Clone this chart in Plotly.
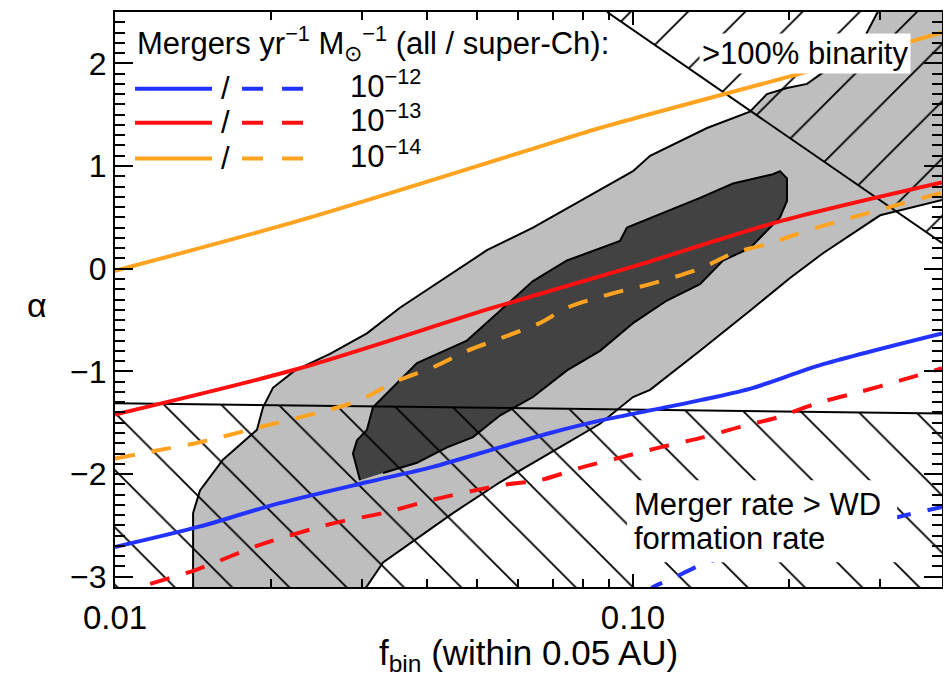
import math
import plotly.graph_objects as go

# ---------------- data ----------------
x_range = [0.01, 0.395]
y_range = [-3.1, 2.5]

x_major = [0.01, 0.1]
x_major_text = ["0.01", "0.10"]
x_minor = [0.02, 0.03, 0.04, 0.05, 0.06, 0.07, 0.08, 0.09, 0.2, 0.3]
y_major = [-3, -2, -1, 0, 1, 2]
y_major_text = ["\u22123", "\u22122", "\u22121", "0", "1", "2"]

# 2-sigma (light) contour
outer_x = [0.01415, 0.01415, 0.01459, 0.01616, 0.01879, 0.01931, 0.02018, 0.02226, 0.02601,
           0.03064, 0.03549, 0.04241, 0.05225, 0.06411, 0.07904, 0.1000, 0.1079, 0.1163,
           0.1390, 0.1682, 0.1814, 0.1983, 0.2168, 0.2296, 0.2743, 0.3039, 0.45, 0.45,
           0.3000, 0.2327, 0.2010, 0.1682, 0.1347, 0.1079, 0.1000, 0.08637, 0.07458,
           0.06243, 0.05534, 0.04493, 0.03880, 0.03292, 0.03011]
outer_y = [-3.15, -2.38, -2.16, -1.86, -1.57, -1.35, -1.16, -0.99, -0.83,
           -0.63, -0.38, -0.12, 0.18, 0.40, 0.66, 0.95, 1.10, 1.18,
           1.37, 1.53, 1.70, 1.76, 1.80, 1.89, 2.17, 2.60, 2.60, 0.74,
           0.52, 0.15, -0.09, -0.41, -0.80, -1.18, -1.25, -1.51, -1.70,
           -1.93, -2.08, -2.38, -2.61, -2.86, -3.15]

# 1-sigma (dark) contour
inner_x = [0.02972, 0.02880, 0.02932, 0.03064, 0.03148, 0.03292, 0.03828, 0.04780, 0.05534,
           0.06411, 0.07458, 0.09438, 0.09736, 0.1163, 0.1347, 0.1560, 0.1863, 0.1922,
           0.1983, 0.1983, 0.1922, 0.1682, 0.1492, 0.1347, 0.1163, 0.1000, 0.08637,
           0.07458, 0.06411, 0.05534, 0.04911, 0.04375, 0.03828, 0.03292]
inner_y = [-2.06, -1.80, -1.67, -1.57, -1.35, -1.25, -0.92, -0.70, -0.41,
           -0.12, 0.08, 0.27, 0.40, 0.56, 0.69, 0.83, 0.92, 0.95,
           0.88, 0.66, 0.50, 0.20, 0.08, -0.15, -0.31, -0.53, -0.80,
           -0.99, -1.25, -1.43, -1.64, -1.74, -1.89, -1.99]

# exclusion boundaries
wd_limit_x = [0.01, 0.395]
wd_limit_y = [-1.31, -1.41]
bin_limit_x = [0.0891, 0.395]
bin_limit_y = [2.50, 0.25]

# merger-rate curves
blue_solid_x = [0.01, 0.0146, 0.0202, 0.0306, 0.0411, 0.0553, 0.0692, 0.0863, 0.108, 0.135, 0.168, 0.233, 0.395]
blue_solid_y = [-2.71, -2.51, -2.30, -2.08, -1.93, -1.74, -1.60, -1.48, -1.38, -1.28, -1.17, -0.93, -0.63]
blue_dash_x = [0.1060, 0.1094, 0.1178, 0.139, 0.210, 0.3236, 0.395]
blue_dash_y = [-3.17, -3.10, -3.03, -2.86, -2.64, -2.42, -2.32]

red_solid_x = [0.01, 0.02275, 0.0537, 0.1, 0.195, 0.395]
red_solid_y = [-1.42, -0.97, -0.38, 0.02, 0.47, 0.84]
red_dash_x = [0.01, 0.01117, 0.01439, 0.01905, 0.02636, 0.03289, 0.04111, 0.05534, 0.06607, 0.07907,
              0.09441, 0.1127, 0.1346, 0.1611, 0.1897, 0.2265, 0.2742, 0.3273, 0.395]
red_dash_y = [-3.18, -3.10, -2.93, -2.69, -2.48, -2.38, -2.25, -2.11, -2.06, -1.94,
              -1.84, -1.74, -1.65, -1.54, -1.45, -1.31, -1.20, -1.09, -0.97]

orange_solid_x = [0.01, 0.02275, 0.0624, 0.0863, 0.210, 0.395]
orange_solid_y = [-0.02, 0.47, 1.15, 1.37, 1.90, 2.30]
orange_dash_x = [0.01, 0.01205, 0.01459, 0.01879, 0.02564, 0.02972, 0.03475, 0.04111, 0.04786, 0.05534,
                 0.06607, 0.07464, 0.09141, 0.1079, 0.1346, 0.1560, 0.1816, 0.2265, 0.395]
orange_dash_y = [-1.85, -1.77, -1.69, -1.55, -1.38, -1.28, -1.10, -0.96, -0.80, -0.68,
                 -0.53, -0.38, -0.24, -0.15, 0.00, 0.15, 0.24, 0.40, 0.74]

rate_labels = ["10<sup>\u221212</sup>", "10<sup>\u221213</sup>", "10<sup>\u221214</sup>"]
rate_colors = ["#2233ff", "#ff1010", "#ffa321"]

# ---------------- styling ----------------
FONT = "Liberation Sans, Arial, Helvetica, sans-serif"
LW = 4
DASH = "20px,17px"
HATCH_SIZE = 40.5
HATCH_SOL = 0.045

fig = go.Figure()

# contours
fig.add_trace(go.Scatter(x=outer_x, y=outer_y, mode="lines", fill="toself", fillcolor="#bebebe",
                         line=dict(color="black", width=2), hoverinfo="skip", showlegend=False))
fig.add_trace(go.Scatter(x=inner_x, y=inner_y, mode="lines", fill="toself", fillcolor="#424242",
                         line=dict(color="black", width=2), hoverinfo="skip", showlegend=False))

# hatched exclusion regions
lo_x = [wd_limit_x[0], wd_limit_x[1], wd_limit_x[1], wd_limit_x[0]]
lo_y = [wd_limit_y[0], wd_limit_y[1], y_range[0] - 0.3, y_range[0] - 0.3]
fig.add_trace(go.Scatter(x=lo_x, y=lo_y, mode="lines", fill="toself", fillcolor="rgba(0,0,0,0)",
                         fillpattern=dict(shape="\\", size=HATCH_SIZE, solidity=HATCH_SOL,
                                          fgcolor="black", bgcolor="rgba(0,0,0,0)", fgopacity=1),
                         line=dict(width=0), hoverinfo="skip", showlegend=False))
hi_x = [bin_limit_x[0], bin_limit_x[1], bin_limit_x[1]]
hi_y = [bin_limit_y[0], bin_limit_y[1], y_range[1]]
fig.add_trace(go.Scatter(x=hi_x, y=hi_y, mode="lines", fill="toself", fillcolor="rgba(0,0,0,0)",
                         fillpattern=dict(shape="/", size=HATCH_SIZE, solidity=HATCH_SOL,
                                          fgcolor="black", bgcolor="rgba(0,0,0,0)", fgopacity=1),
                         line=dict(width=0), hoverinfo="skip", showlegend=False))

fig.add_trace(go.Scatter(x=wd_limit_x, y=wd_limit_y, mode="lines", line=dict(color="black", width=2),
                         hoverinfo="skip", showlegend=False))
fig.add_trace(go.Scatter(x=bin_limit_x, y=bin_limit_y, mode="lines", line=dict(color="black", width=2),
                         hoverinfo="skip", showlegend=False))

# merger-rate curves
curves = [
    (blue_solid_x, blue_solid_y, rate_colors[0], "solid"),
    (blue_dash_x, blue_dash_y, rate_colors[0], DASH),
    (red_solid_x, red_solid_y, rate_colors[1], "solid"),
    (red_dash_x, red_dash_y, rate_colors[1], DASH),
    (orange_solid_x, orange_solid_y, rate_colors[2], "solid"),
    (orange_dash_x, orange_dash_y, rate_colors[2], DASH),
]
for cx, cy, col, dash in curves:
    fig.add_trace(go.Scatter(x=cx, y=cy, mode="lines",
                             line=dict(color=col, width=LW, dash=dash, shape="spline", smoothing=0.8),
                             hoverinfo="skip", showlegend=False))

annotations = []
shapes = []
TXT = 31

# text boxes
annotations.append(dict(x=math.log10(0.215), y=2.10, xref="x", yref="y", text=">100% binarity",
                        showarrow=False, bgcolor="white", borderpad=2,
                        font=dict(family=FONT, size=TXT, color="black")))
# shapes on a log axis take plain data values
shapes.append(dict(type="rect", xref="x", yref="y", x0=0.0974, x1=0.3236,
                   y0=-2.86, y1=-2.06, fillcolor="white", line=dict(width=0), layer="above"))
annotations.append(dict(x=math.log10(0.0995), y=-2.30, xref="x", yref="y", text="Merger rate > WD",
                        showarrow=False, xanchor="left", yanchor="middle",
                        font=dict(family=FONT, size=TXT, color="black")))
annotations.append(dict(x=math.log10(0.0995), y=-2.63, xref="x", yref="y", text="formation rate",
                        showarrow=False, xanchor="left", yanchor="middle",
                        font=dict(family=FONT, size=TXT, color="black")))

# legend (custom: solid / dashed per rate)
annotations.append(dict(x=0.024, y=0.946, xref="paper", yref="paper", xanchor="left", yanchor="middle",
                        text="Mergers yr<sup>\u22121</sup> M<sub>\u2299</sub><sup>\u22121</sup> (all / super-Ch):",
                        showarrow=False, font=dict(family=FONT, size=TXT, color="black")))
row_y = [0.8666, 0.8076, 0.7452]
for ry, lab, col in zip(row_y, rate_labels, rate_colors):
    shapes.append(dict(type="line", xref="paper", yref="paper", x0=0.0242, x1=0.1173, y0=ry, y1=ry,
                       line=dict(color=col, width=LW)))
    shapes.append(dict(type="line", xref="paper", yref="paper", x0=0.1536, x1=0.2297, y0=ry, y1=ry,
                       line=dict(color=col, width=LW, dash="21px,19px")))
    annotations.append(dict(x=0.1342, y=ry, xref="paper", yref="paper", text="/", showarrow=False,
                            xanchor="center", yanchor="middle",
                            font=dict(family=FONT, size=TXT, color="black")))
    annotations.append(dict(x=0.2817, y=ry + 0.008, xref="paper", yref="paper", text=lab, showarrow=False,
                            xanchor="left", yanchor="middle",
                            font=dict(family=FONT, size=TXT, color="black")))

# axis titles
annotations.append(dict(x=0.5, y=-0.118, xref="paper", yref="paper", xanchor="center", yanchor="middle",
                        text="f<sub>bin</sub> (within 0.05 AU)", showarrow=False,
                        font=dict(family=FONT, size=35, color="black")))
annotations.append(dict(x=-0.094, y=0.49, xref="paper", yref="paper", xanchor="center", yanchor="middle",
                        text="\u03b1", showarrow=False,
                        font=dict(family=FONT, size=34, color="black")))

# the page body adds an 8px offset, so the figure is 8px smaller than the window
fig.update_layout(
    width=943, height=675,
    margin=dict(l=107, r=9, t=2, b=96),
    paper_bgcolor="white", plot_bgcolor="white",
    showlegend=False,
    annotations=annotations,
    shapes=shapes,
    xaxis=dict(type="log", range=[math.log10(x_range[0]), math.log10(x_range[1])],
               tickmode="array", tickvals=x_major, ticktext=x_major_text,
               ticks="inside", ticklen=13, tickwidth=2, tickcolor="black",
               showline=True, linewidth=2, linecolor="black", mirror="ticks",
               showgrid=False, zeroline=False, ticklabelstandoff=0,
               tickfont=dict(family=FONT, size=33, color="black"),
               minor=dict(tickmode="array", tickvals=x_minor, ticks="inside", ticklen=8,
                          tickwidth=1.5, tickcolor="black", showgrid=False)),
    yaxis=dict(range=y_range, tickmode="array", tickvals=y_major, ticktext=y_major_text,
               ticks="inside", ticklen=18, tickwidth=2, tickcolor="black",
               showline=True, linewidth=2, linecolor="black", mirror="ticks",
               showgrid=False, zeroline=False, ticklabelstandoff=0,
               tickfont=dict(family=FONT, size=32, color="black"),
               minor=dict(dtick=0.1, tick0=0, ticks="inside", ticklen=10,
                          tickwidth=1.5, tickcolor="black", showgrid=False)),
)

fig.write_html("out.html")
